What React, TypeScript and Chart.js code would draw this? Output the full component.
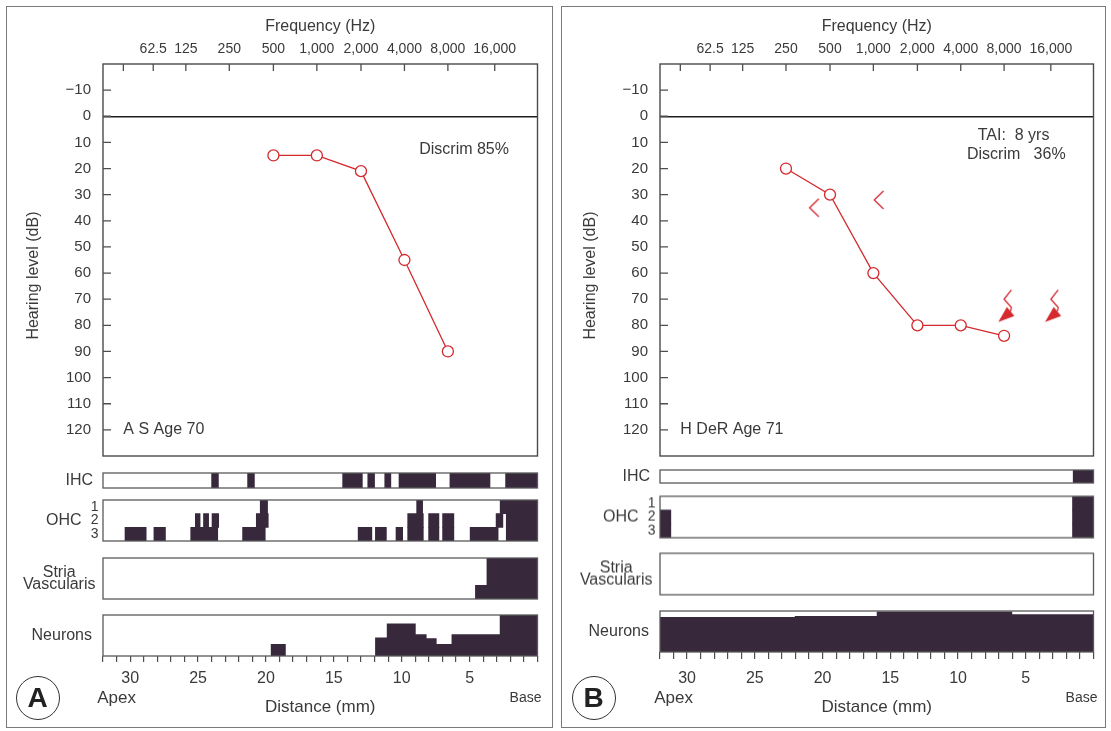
import React, { useEffect, useRef } from 'react';
import { Chart, registerables } from 'chart.js';

Chart.register(...registerables);

const FONT = '"Liberation Sans", Arial, Helvetica, sans-serif';
const TEXT = '#3a3a3a';
const AXIS = '#4e4e4e';
const RED = '#d42a2e';
const DARK = '#38283c';

// ---------- axis tick tables ----------
// frequency ticks (Hz) and their place along the cochlea (mm from base)
const FREQ_TICK_HZ = [31.25, 62.5, 125, 250, 500, 1000, 2000, 4000, 8000, 16000];
const FREQ_TICK_MM = [30.5, 28.3, 25.9, 22.7, 19.45, 16.25, 13.0, 9.8, 6.6, 3.15];
const FREQ_TICK_LABELS = ['', '62.5', '125', '250', '500', '1,000', '2,000', '4,000', '8,000', '16,000'];
const DB_TICKS = [-10, 0, 10, 20, 30, 40, 50, 60, 70, 80, 90, 100, 110, 120];
const DIST_TICK_LABELS = [30, 25, 20, 15, 10, 5];

// ---------- panel A : A S Age 70 ----------
const A_FREQ = [500, 1000, 2000, 4000, 8000];
const A_DB = [15, 15, 21, 55, 90];
const A_NOTES = [
  { text: 'Discrim 85%', mm: 2.1, db: 12.6, align: 'right' },
  { text: 'A S Age 70', mm: 30.5, db: 120, align: 'left' },
];
// cytocochleogram segments [from mm, to mm]
const A_IHC = [[24, 23.5], [21.35, 20.85], [14.35, 12.9], [12.5, 12.0], [11.25, 10.8], [10.2, 7.5], [6.45, 3.5], [2.35, 0]];
const A_OHC_ROW1 = [[20.42, 19.88], [8.9, 8.46], [2.75, 0]];
const A_OHC_ROW2 = [[25.2, 24.85], [24.6, 24.22], [23.97, 23.48], [20.71, 19.83], [9.56, 8.41], [8.02, 7.26], [6.99, 6.16], [3.05, 2.55], [2.3, 0]];
const A_OHC_ROW3 = [[30.38, 28.82], [28.25, 27.4], [25.54, 23.55], [21.72, 20.05], [13.21, 12.2], [11.94, 11.13], [10.42, 9.93], [9.56, 8.41], [8.02, 7.26], [6.99, 6.16], [4.96, 2.9], [2.3, 0]];
// profiles [from mm, to mm, fraction lost]
const A_STRIA = [[4.6, 3.75, 0.34], [3.75, 0, 1]];
const A_NEURONS = [[19.66, 18.54, 0.29], [11.96, 11.1, 0.45], [11.1, 8.97, 0.79], [8.97, 8.17, 0.53], [8.17, 7.43, 0.43], [7.43, 6.33, 0.29], [6.33, 2.78, 0.53], [2.78, 0, 1]];

// ---------- panel B : H DeR Age 71 ----------
const B_FREQ = [250, 500, 1000, 2000, 4000, 8000];
const B_DB = [20, 30, 60, 80, 80, 84];
const B_BONE_FREQ = [390, 1090];
const B_BONE_DB = [35, 32];
const B_NR_FREQ = [8000, 16000];
const B_NR_DB = [70, 70];
const B_NOTES = [
  { text: 'TAI:  8 yrs', mm: 5.9, db: 7.3, align: 'center' },
  { text: 'Discrim   36%', mm: 5.7, db: 14.6, align: 'center' },
  { text: 'H DeR Age 71', mm: 30.5, db: 120, align: 'left' },
];
const B_IHC = [[1.5, 0]];
const B_OHC_ROW1 = [[1.55, 0]];
const B_OHC_ROW2 = [[32, 31.2], [1.55, 0]];
const B_OHC_ROW3 = [[32, 31.2], [1.55, 0]];
const B_STRIA: number[][] = [];
const B_NEURONS = [[32, 22.05, 0.855], [22.05, 16, 0.88], [16, 6, 0.985], [6, 0, 0.92]];

// ---------- layout ----------
const CW = 550;
const Y_AXIS_W = 103;
const M = 30;
const AUD_H = 500;
const LAYOUT_A = {
  x0: 0, plotRight: 537.5, frameLeft: 5.5, frameWidth: 547, badge: 'A', badgeX: 37.5,
  ihc: [472.5, 487.5], ohc: [499.5, 541], stria: [557.5, 599], neu: [615, 656], tickLen: 6,
};
const LAYOUT_B = {
  x0: 557, plotRight: 536.5, frameLeft: 561, frameWidth: 545, badge: 'B', badgeX: 593.5,
  ihc: [469.5, 483], ohc: [496, 537.5], stria: [553, 594.5], neu: [610.5, 652], tickLen: 7,
};

function freqToMm(f: number) {
  const l = Math.log2(f);
  const n = FREQ_TICK_HZ.length;
  for (let i = 0; i < n - 1; i++) {
    const l0 = Math.log2(FREQ_TICK_HZ[i]);
    const l1 = Math.log2(FREQ_TICK_HZ[i + 1]);
    if (l <= l1 || i === n - 2) {
      const t = (l - l0) / (l1 - l0);
      return FREQ_TICK_MM[i] + t * (FREQ_TICK_MM[i + 1] - FREQ_TICK_MM[i]);
    }
  }
  return 0;
}

const font = (size: number, extra: any = {}) => ({ family: FONT, size, ...extra });
const noGrid = { display: false, drawTicks: false };

// ---------- plugins ----------
const framePlugin = {
  id: 'frame',
  afterDatasetsDraw(chart: any, _a: any, opts: any) {
    const { ctx, chartArea: a } = chart;
    ctx.save();
    ctx.strokeStyle = opts.color || '#5a5a5a';
    ctx.lineWidth = opts.width || 1.3;
    ctx.strokeRect(a.left, a.top, a.right - a.left, a.bottom - a.top);
    ctx.restore();
  },
};

const innerTicksPlugin = {
  id: 'innerTicks',
  afterDatasetsDraw(chart: any, _a: any, opts: any) {
    const { ctx, chartArea: a, scales } = chart;
    const xs = scales.x;
    const ys = scales.y;
    ctx.save();
    ctx.strokeStyle = AXIS;
    ctx.lineWidth = 1.3;
    ctx.beginPath();
    xs.ticks.forEach((_t: any, i: number) => {
      const px = xs.getPixelForTick(i);
      ctx.moveTo(px, a.top);
      ctx.lineTo(px, a.top + (opts.xLen || 7));
    });
    ys.ticks.forEach((t: any, i: number) => {
      if (!t.label) return;
      const py = ys.getPixelForTick(i);
      ctx.moveTo(a.left, py);
      ctx.lineTo(a.left + (opts.yLen || 8), py);
    });
    ctx.stroke();
    ctx.restore();
  },
};

const notesPlugin = {
  id: 'notes',
  afterDatasetsDraw(chart: any, _a: any, opts: any) {
    const { ctx, scales } = chart;
    ctx.save();
    ctx.fillStyle = TEXT;
    ctx.font = `16px ${FONT}`;
    ctx.textBaseline = 'middle';
    (opts.items || []).forEach((n: any) => {
      ctx.textAlign = n.align;
      ctx.fillText(n.text, scales.x.getPixelForValue(n.mm), scales.y.getPixelForValue(n.db));
    });
    ctx.restore();
  },
};

const endLabelsPlugin = {
  id: 'endLabels',
  afterDraw(chart: any, _a: any, opts: any) {
    const { ctx, chartArea: a, scales } = chart;
    ctx.save();
    ctx.fillStyle = TEXT;
    ctx.textBaseline = 'middle';
    ctx.font = `17px ${FONT}`;
    ctx.textAlign = 'center';
    ctx.fillText('Apex', scales.x.getPixelForValue(31), opts.y);
    ctx.font = `14px ${FONT}`;
    ctx.textAlign = 'right';
    ctx.fillText('Base', a.right + 4, opts.y);
    ctx.restore();
  },
};

// ---------- custom point symbols ----------
function makeBoneSymbol() {
  const c = document.createElement('canvas');
  c.width = 24; c.height = 24;
  const g = c.getContext('2d')!;
  g.strokeStyle = RED; g.lineWidth = 1.3;
  g.beginPath();
  g.moveTo(12 + 4.6, 12 - 9);
  g.lineTo(12 - 4.6, 12);
  g.lineTo(12 + 4.6, 12 + 9);
  g.stroke();
  return c;
}

function makeNoResponseSymbol() {
  const c = document.createElement('canvas');
  c.width = 50; c.height = 50;
  const g = c.getContext('2d')!;
  const o = 25;
  g.strokeStyle = RED; g.fillStyle = RED; g.lineWidth = 1.3;
  g.beginPath();
  g.moveTo(o + 7.3, o - 9.3);
  g.lineTo(o, o);
  g.lineTo(o + 7.3, o + 8.3);
  g.lineTo(o + 6.6, o + 12);
  g.stroke();
  g.beginPath();
  g.moveTo(o - 5.8, o + 22.8);
  g.lineTo(o + 2.8, o + 7.8);
  g.lineTo(o + 10.3, o + 16.8);
  g.closePath();
  g.fill();
  return c;
}

// ---------- chart configs ----------
const common = { animation: false, responsive: false, maintainAspectRatio: false, events: [] as string[] };
const quiet = { legend: { display: false }, tooltip: { enabled: false } };

function audiogramConfig(p: any, s: any) {
  const datasets: any[] = [
    {
      data: s.freq.map((f: number, i: number) => ({ x: freqToMm(f), y: s.db[i] })),
      borderColor: RED, borderWidth: 1.3, pointRadius: 5.5, pointBorderWidth: 1.3,
      pointBackgroundColor: '#ffffff', pointBorderColor: RED, fill: false, tension: 0,
    },
  ];
  if (s.boneFreq) {
    const sym = makeBoneSymbol();
    datasets.push({
      data: s.boneFreq.map((f: number, i: number) => ({ x: freqToMm(f), y: s.boneDb[i] })),
      showLine: false, pointStyle: sym, pointRadius: 10,
    });
  }
  if (s.nrFreq) {
    const sym = makeNoResponseSymbol();
    datasets.push({
      data: s.nrFreq.map((f: number, i: number) => ({ x: freqToMm(f), y: s.nrDb[i] })),
      showLine: false, pointStyle: sym, pointRadius: 10,
    });
  }
  return {
    type: 'line',
    data: { datasets },
    options: {
      ...common,
      layout: { padding: { left: 0, right: CW - p.plotRight, top: 0, bottom: AUD_H - 456 } },
      plugins: { ...quiet, frame: { color: '#4a4a4a', width: 1.4 }, innerTicks: { xLen: 7, yLen: 8 }, notes: { items: s.notes } },
      scales: {
        x: {
          type: 'linear', position: 'top', min: 0, max: 32, reverse: true,
          afterBuildTicks: (sc: any) => { sc.ticks = FREQ_TICK_MM.map((v) => ({ value: v })); },
          ticks: {
            autoSkip: false, maxRotation: 0, padding: 6, font: font(14), color: TEXT,
            callback: (_v: any, i: number) => FREQ_TICK_LABELS[i],
          },
          grid: noGrid,
          border: { display: false },
          title: { display: true, text: 'Frequency (Hz)', font: font(16), color: TEXT, padding: { top: 17, bottom: 0 } },
          afterFit: (sc: any) => { sc.height = 64; },
        },
        y: {
          type: 'linear', min: -20, max: 130, reverse: true,
          ticks: {
            stepSize: 10, padding: 12, font: font(15), color: TEXT,
            callback: (v: number) => (DB_TICKS.includes(v) ? (v < 0 ? '\u2212' + Math.abs(v) : String(v)) : ''),
          },
          grid: {
            drawTicks: false,
            color: (c: any) => (c.tick && c.tick.value === 0 ? '#1e1e1e' : 'rgba(0,0,0,0)'),
            lineWidth: (c: any) => (c.tick && c.tick.value === 0 ? 1.5 : 1),
          },
          border: { display: false },
          title: { display: true, text: 'Hearing level (dB)       ', font: font(16), color: TEXT, padding: { top: 24, bottom: 0 } },
          afterFit: (sc: any) => { sc.width = Y_AXIS_W; },
        },
      },
    },
    plugins: [framePlugin, innerTicksPlugin, notesPlugin],
  };
}

const rowBars = (segs: number[][], row: string) => segs.map(([a, b]) => ({ x: [a, b], y: row }));
const profilePoints = (prof: number[][]) =>
  prof.flatMap(([a, b, v]) => [{ x: a, y: 0 }, { x: a, y: v }, { x: b, y: v }, { x: b, y: 0 }]);

const hiddenDist = { type: 'linear', min: 0, max: 32, reverse: true, display: false };

function ihcConfig(p: any, segs: number[][]) {
  return {
    type: 'bar',
    data: {
      datasets: [{ data: rowBars(segs, 'IHC'), backgroundColor: DARK, borderWidth: 0, barPercentage: 1, categoryPercentage: 1, grouped: false }],
    },
    options: {
      ...common, indexAxis: 'y',
      layout: { padding: { left: 0, right: CW - p.plotRight, top: M, bottom: M } },
      plugins: { ...quiet, frame: { color: '#5a5a5a', width: 1.3 } },
      scales: {
        x: hiddenDist,
        y: {
          type: 'category', labels: ['IHC'], offset: true,
          grid: noGrid, border: { display: false },
          ticks: { font: font(16), color: TEXT, padding: 10, autoSkip: false },
          afterFit: (sc: any) => { sc.width = Y_AXIS_W; },
        },
      },
    },
    plugins: [framePlugin],
  };
}

function ohcConfig(p: any, r1: number[][], r2: number[][], r3: number[][]) {
  return {
    type: 'bar',
    data: {
      datasets: [{
        data: [...rowBars(r1, '1'), ...rowBars(r2, '2'), ...rowBars(r3, '3')],
        backgroundColor: DARK, borderWidth: 0, barPercentage: 1, categoryPercentage: 1, grouped: false,
      }],
    },
    options: {
      ...common, indexAxis: 'y',
      layout: { padding: { left: 0, right: CW - p.plotRight, top: M, bottom: M } },
      plugins: { ...quiet, frame: { color: '#5a5a5a', width: 1.3 } },
      scales: {
        x: hiddenDist,
        y: {
          type: 'category', labels: ['1', '2', '3'], offset: true, weight: 0,
          grid: noGrid, border: { display: false },
          ticks: { font: font(14, { lineHeight: 1 }), color: TEXT, padding: 4.5, autoSkip: false },
          afterFit: (sc: any) => { sc.width = 16.5; },
        },
        yName: {
          type: 'category', position: 'left', labels: ['OHC'], offset: true, weight: 1,
          grid: noGrid, border: { display: false },
          ticks: { font: font(16), color: TEXT, padding: 5, autoSkip: false },
          afterFit: (sc: any) => { sc.width = Y_AXIS_W - 16.5; },
        },
      },
    },
    plugins: [framePlugin],
  };
}

function profileConfig(p: any, prof: number[][], name: any, withAxis: boolean) {
  const x: any = withAxis
    ? {
        type: 'linear', min: 0, max: 32, reverse: true, position: 'bottom',
        ticks: {
          stepSize: 1, autoSkip: false, maxRotation: 0, font: font(16), color: TEXT,
          padding: 679 - p.neu[1] - p.tickLen - 9.6,
          callback: (v: number) => (DIST_TICK_LABELS.includes(v) ? String(v) : ''),
        },
        grid: { display: true, drawOnChartArea: false, drawTicks: true, tickLength: p.tickLen, color: AXIS, lineWidth: 1.2 },
        border: { display: false },
        title: { display: true, text: 'Distance (mm)', font: font(17), color: TEXT, padding: { top: 0, bottom: 13.8 } },
        afterFit: (sc: any) => { sc.height = 731 - p.neu[1]; },
      }
    : hiddenDist;
  const top = withAxis ? p.neu[0] - M : 0;
  return {
    type: 'line',
    data: {
      datasets: [{ data: profilePoints(prof), fill: 'origin', backgroundColor: DARK, borderWidth: 0, pointRadius: 0, tension: 0 }],
    },
    options: {
      ...common,
      layout: { padding: { left: 0, right: CW - p.plotRight, top: M, bottom: withAxis ? 0 : M } },
      plugins: { ...quiet, frame: { color: '#5a5a5a', width: 1.3 }, endLabels: { y: 698 - top } },
      scales: {
        x,
        y: { type: 'linear', min: 0, max: 1, display: false },
        yName: {
          type: 'category', position: 'left', labels: [name], offset: true,
          grid: noGrid, border: { display: false },
          ticks: {
            font: font(16, { lineHeight: 0.8 }), color: TEXT, crossAlign: 'center', autoSkip: false,
            padding: Array.isArray(name) ? 7.5 : 11,
          },
          afterFit: (sc: any) => { sc.width = Y_AXIS_W; },
        },
      },
    },
    plugins: withAxis ? [framePlugin, endLabelsPlugin] : [framePlugin],
  };
}

// ---------- components ----------
function ChartCanvas({ left, top, width, height, build }: any) {
  const ref = useRef<HTMLCanvasElement>(null);
  useEffect(() => {
    const chart = new Chart(ref.current as HTMLCanvasElement, build());
    return () => chart.destroy();
  }, []);
  return (
    <canvas
      ref={ref}
      width={width}
      height={height}
      style={{ position: 'absolute', left, top, width, height, display: 'block' }}
    />
  );
}

function Panel({ p, series, ihc, ohc, stria, neurons }: any) {
  const stripBox = (r: number[]) => ({ top: r[0] - M, height: r[1] - r[0] + 2 * M });
  return (
    <>
      <div
        style={{
          position: 'absolute', left: p.frameLeft, top: 5.5, width: p.frameWidth, height: 722,
          border: '1.5px solid #7a7a7a', boxSizing: 'border-box',
        }}
      />
      <ChartCanvas left={p.x0} top={0} width={CW} height={AUD_H} build={() => audiogramConfig(p, series)} />
      <ChartCanvas left={p.x0} {...stripBox(p.ihc)} width={CW} build={() => ihcConfig(p, ihc)} />
      <ChartCanvas left={p.x0} {...stripBox(p.ohc)} width={CW} build={() => ohcConfig(p, ohc[0], ohc[1], ohc[2])} />
      <ChartCanvas left={p.x0} {...stripBox(p.stria)} width={CW} build={() => profileConfig(p, stria, ['Stria', 'Vascularis'], false)} />
      <ChartCanvas
        left={p.x0}
        top={p.neu[0] - M}
        height={731 - (p.neu[0] - M)}
        width={CW}
        build={() => profileConfig(p, neurons, 'Neurons', true)}
      />
      <div
        style={{
          position: 'absolute', left: p.badgeX - 22, top: 698 - 22, width: 44, height: 44,
          border: '1.4px solid #333', borderRadius: '50%', boxSizing: 'border-box',
          display: 'flex', alignItems: 'center', justifyContent: 'center',
          fontFamily: FONT, fontWeight: 700, fontSize: 28, color: '#222', lineHeight: 1,
        }}
      >
        {p.badge}
      </div>
    </>
  );
}

export default function App() {
  return (
    <div style={{ position: 'fixed', left: 0, top: 0, width: 1111, height: 731, background: '#ffffff', overflow: 'hidden' }}>
      <Panel
        p={LAYOUT_A}
        series={{ freq: A_FREQ, db: A_DB, notes: A_NOTES }}
        ihc={A_IHC}
        ohc={[A_OHC_ROW1, A_OHC_ROW2, A_OHC_ROW3]}
        stria={A_STRIA}
        neurons={A_NEURONS}
      />
      <Panel
        p={LAYOUT_B}
        series={{
          freq: B_FREQ, db: B_DB, notes: B_NOTES,
          boneFreq: B_BONE_FREQ, boneDb: B_BONE_DB, nrFreq: B_NR_FREQ, nrDb: B_NR_DB,
        }}
        ihc={B_IHC}
        ohc={[B_OHC_ROW1, B_OHC_ROW2, B_OHC_ROW3]}
        stria={B_STRIA}
        neurons={B_NEURONS}
      />
    </div>
  );
}
